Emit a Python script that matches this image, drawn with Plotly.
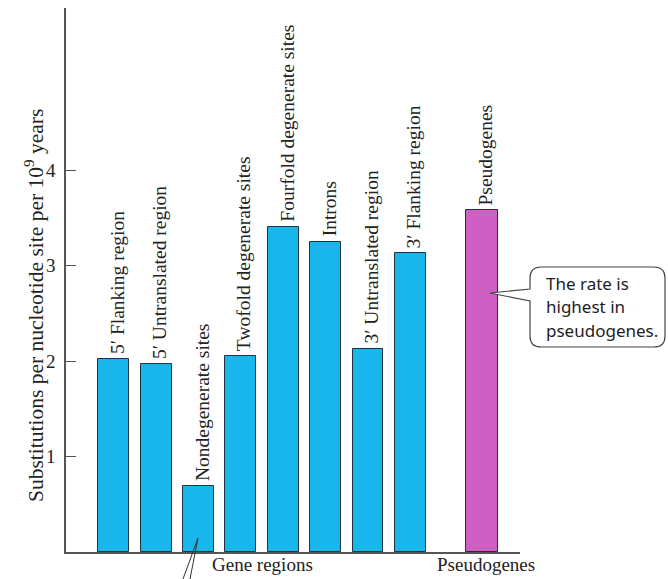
import plotly.graph_objects as go

# ---- data ----
gene_labels = ["5′ Flanking region", "5′ Untranslated region", "Nondegenerate sites",
               "Twofold degenerate sites", "Fourfold degenerate sites", "Introns",
               "3′ Untranslated region", "3′ Flanking region"]
gene_values = [2.02, 1.97, 0.69, 2.05, 3.41, 3.25, 2.13, 3.13]
pseudo_labels = ["Pseudogenes"]
pseudo_values = [3.58]
group_labels = ["Gene regions", "Pseudogenes"]
y_ticks = [1, 2, 3, 4]
y_title = "Substitutions per nucleotide site per 10<sup>9</sup> years"
callout_lines = ["The rate is", "highest in", "pseudogenes."]

# ---- layout geometry ----
W, H = 668, 579
L, R, T, B = 66, 148, 8, 27
PW, PH = W - L - R, H - T - B
GAP = 1.7
gene_x = list(range(len(gene_values)))
pseudo_x = [gene_x[-1] + GAP]
XMIN, XMAX = -1.13, pseudo_x[0] + 0.89
YMAX = 5.7

def px(x):  # pixel -> paper x
    return (x - L) / PW

def py(y):  # pixel -> paper y
    return (H - B - y) / PH

BLUE = "#19b6ec"
PINK = "#cf5fc2"
EDGE = "#1d3440"
SERIF = "Liberation Serif"
SANS = "Noto Sans"
TXT = "#222"

fig = go.Figure()
fig.add_trace(go.Bar(x=gene_x, y=gene_values, width=0.73, marker=dict(color=BLUE, line=dict(color=EDGE, width=1)),
                     hoverinfo="skip", showlegend=False))
fig.add_trace(go.Bar(x=pseudo_x, y=pseudo_values, width=0.75, marker=dict(color=PINK, line=dict(color=EDGE, width=1)),
                     hoverinfo="skip", showlegend=False))

ann = []
for x, v, t in zip(gene_x + pseudo_x, gene_values + pseudo_values, gene_labels + pseudo_labels):
    ann.append(dict(x=x + 0.08, y=v, xref="x", yref="y", text=t, textangle=-90, showarrow=False,
                    xanchor="center", yanchor="bottom", yshift=3,
                    font=dict(family=SERIF, size=19.5, color=TXT)))

# group labels
ann.append(dict(x=(gene_x[0] + gene_x[-1]) / 2 - 0.0, y=0, xref="x", yref="y", text=group_labels[0],
                showarrow=False, yanchor="top", yshift=0, font=dict(family=SERIF, size=19, color=TXT)))
ann.append(dict(x=pseudo_x[0] + 0.08, y=0, xref="x", yref="y", text=group_labels[1],
                showarrow=False, yanchor="top", yshift=0, font=dict(family=SERIF, size=19, color=TXT)))

# axis title
ann.append(dict(x=px(34), y=py(306), xref="paper", yref="paper", text=y_title, textangle=-90,
                showarrow=False, xanchor="center", yanchor="middle",
                font=dict(family=SERIF, size=21.5, color=TXT)))

# callout text (one line per annotation for exact spacing)
for i, line in enumerate(callout_lines):
    ann.append(dict(x=px(544), y=py(283 + 23.5 * i), xref="paper", yref="paper", text=line, align="left",
                    showarrow=False, xanchor="left", yanchor="middle",
                    font=dict(family=SANS, size=17, color=TXT)))

# callout box with pointer (rounded)
x0, x1, y0, y1, r = 530, 665, 267, 347, 11
pts = f"M {px(x0+r)},{py(y0)} L {px(x1-r)},{py(y0)} Q {px(x1)},{py(y0)} {px(x1)},{py(y0+r)} " \
      f"L {px(x1)},{py(y1-r)} Q {px(x1)},{py(y1)} {px(x1-r)},{py(y1)} " \
      f"L {px(x0+r)},{py(y1)} Q {px(x0)},{py(y1)} {px(x0)},{py(y1-r)} " \
      f"L {px(x0)},{py(301)} L {px(490)},{py(293)} L {px(x0)},{py(289)} " \
      f"L {px(x0)},{py(y0+r)} Q {px(x0)},{py(y0)} {px(x0+r)},{py(y0)} Z"
shapes = [dict(type="path", xref="paper", yref="paper", path=pts, fillcolor="white",
               line=dict(color="#444", width=1.2))]
# leader wedge below nondegenerate bar
shapes.append(dict(type="path", xref="paper", yref="paper",
                   path=f"M {px(183)},{py(579)} L {px(198)},{py(538)} L {px(190)},{py(579)}",
                   line=dict(color="#333", width=1)))

fig.update_layout(
    width=W, height=H, margin=dict(l=L, r=R, t=T, b=B, pad=0),
    paper_bgcolor="white", plot_bgcolor="white",
    annotations=ann, shapes=shapes, bargap=0,
    xaxis=dict(range=[XMIN, XMAX], showticklabels=False, ticks="", showgrid=False, zeroline=False,
               showline=True, linecolor="#555", linewidth=1.5, fixedrange=True),
    yaxis=dict(range=[0, YMAX], tickvals=y_ticks, ticks="inside", ticklen=10, tickcolor="#555",
               tickwidth=1, showgrid=False, zeroline=False, showline=True, linecolor="#555",
               linewidth=1.5, ticklabelstandoff=5,
               tickfont=dict(family=SERIF, size=19, color=TXT), fixedrange=True),
)

fig.write_html("out.html", config={"displayModeBar": False},
               post_script="document.body.style.margin='0';document.body.style.overflow='hidden';")
